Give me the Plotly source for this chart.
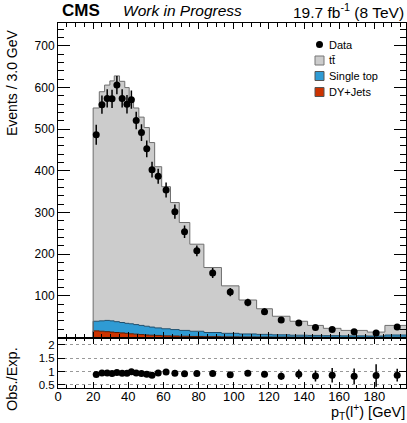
import plotly.graph_objects as go

# ---------------- data ----------------
bin_edges = [20, 23.5, 26.5, 29.5, 32, 35, 38, 40.5, 43, 46, 49, 52, 55, 59, 64,
             69, 75, 83, 93, 103, 113, 122, 132, 142, 151, 161, 176, 186, 200]
mc_total = [551, 590, 606, 616, 628, 615, 600, 575, 551, 529, 504, 468, 410, 362,
            324, 276, 224, 168, 124, 90, 69, 51, 39, 29, 22, 17, 13, 29]
single_top = [23, 25, 27, 27, 26, 25, 24, 24, 23, 22, 21, 19.5, 18, 17, 15.5, 14,
              12.5, 10, 8.5, 7.3, 6.5, 5.7, 4.8, 4.5, 4.1, 3.7, 3.2, 5.5]
dy_jets = [16, 15, 14, 13, 12, 11, 10, 9, 8, 7, 6, 5.5, 5, 4, 3.5, 3, 2.5, 2, 1.5,
           1.2, 1, 0.8, 0.7, 0.5, 0.4, 0.3, 0.3, 0.5]
data_values = [487, 559, 574, 573, 606, 574, 560, 571, 521, 492, 453, 403, 387, 354,
               302, 254, 208, 155, 109, 84, 62, 42, 35, 24, 19, 14, 11, 25]
data_errors = [24, 22, 22, 22, 22, 22, 22, 22, 21, 20, 20, 19, 18, 18, 17, 15, 13,
               12, 10, 9, 8, 7, 7, 6, 6, 5, 5.5, 7]

legend_labels = ["Data", "tt\u0304", "Single top", "DY+Jets"]
x_tick_vals = [0, 20, 40, 60, 80, 100, 120, 140, 160, 180]
y_tick_vals = [100, 200, 300, 400, 500, 600, 700]
r_tick_vals = [0.5, 1, 1.5, 2]
r_tick_text = ["0.5", "1", "1.5", "2"]

# ---------------- derived ----------------
n = len(mc_total)
centers = [(bin_edges[i] + bin_edges[i + 1]) / 2 for i in range(n)]
ttbar = [mc_total[i] - single_top[i] - dy_jets[i] for i in range(n)]
cum_dy = list(dy_jets)
cum_st = [dy_jets[i] + single_top[i] for i in range(n)]
cum_all = [cum_st[i] + ttbar[i] for i in range(n)]
ratio = [data_values[i] / mc_total[i] for i in range(n)]
ratio_err = [data_errors[i] / mc_total[i] for i in range(n)]


def step(vals):
    xs = [bin_edges[0]] + list(bin_edges)
    ys = [0] + list(vals) + [vals[-1]]
    return xs, ys


C_TT = "#cccccc"
C_ST = "#2f9bd4"
C_DY = "#cc3300"
FONT = "Liberation Sans, Arial, Helvetica, sans-serif"

fig = go.Figure()
for vals, fillc, linec, fillmode in [
    (cum_dy, C_DY, "#5a1a00", "tozeroy"),
    (cum_st, C_ST, "#1d4f6e", "tonexty"),
    (cum_all, C_TT, "#6e6e6e", "tonexty"),
]:
    xs, ys = step(vals)
    fig.add_trace(go.Scatter(x=xs, y=ys, mode="lines", line=dict(shape="hv", color=linec, width=1),
                             fill=fillmode, fillcolor=fillc, xaxis="x", yaxis="y",
                             hoverinfo="skip"))

fig.add_trace(go.Scatter(x=centers, y=data_values, mode="markers",
                         marker=dict(color="black", size=7),
                         error_y=dict(type="data", array=data_errors, color="black",
                                      thickness=1.5, width=0),
                         xaxis="x", yaxis="y"))

fig.add_trace(go.Scatter(x=centers, y=ratio, mode="markers",
                         marker=dict(color="black", size=7),
                         error_y=dict(type="data", array=ratio_err, color="black",
                                      thickness=1.5, width=0),
                         xaxis="x2", yaxis="y2"))

# geometry helpers (pixel -> paper)
L, R, T, B, W, H = 58, 1, 23, 35, 407, 423
PW, PH = W - L - R, H - T - B


def px(xp):
    return (xp - L) / PW


def py(yp):
    return (H - B - yp) / PH


split = py(337.5)

axis_common = dict(showline=True, linecolor="black", linewidth=1, mirror="ticks",
                   ticks="inside", tickcolor="black", showgrid=False, zeroline=False,
                   tickfont=dict(family=FONT, size=13, color="black"))

fig.update_layout(
    width=W, height=H, margin=dict(l=L, r=R, t=T, b=B),
    paper_bgcolor="white", plot_bgcolor="white", showlegend=False,
    font=dict(family=FONT, color="black"),
    xaxis=dict(axis_common, domain=[0, 1], range=[0, 198], anchor="y",
               showticklabels=False, tickvals=x_tick_vals, ticklen=6,
               minor=dict(ticks="inside", ticklen=3.5, dtick=5, tick0=0, tickcolor="black")),
    yaxis=dict(axis_common, domain=[split, 1], range=[0, 755], anchor="x",
               tickvals=y_tick_vals, ticklen=12,
               tickfont=dict(family=FONT, size=12, color="black"),
               minor=dict(ticks="inside", ticklen=6, dtick=20, tick0=0, tickcolor="black")),
    xaxis2=dict(axis_common, domain=[0, 1], range=[0, 198], anchor="y2",
                tickvals=x_tick_vals, ticklen=6, ticklabelstandoff=-4,
                minor=dict(ticks="inside", ticklen=3, dtick=5, tick0=0, tickcolor="black")),
    yaxis2=dict(axis_common, domain=[0, split], range=[0.38, 2.28], anchor="x2",
                tickvals=r_tick_vals, ticktext=r_tick_text, ticklen=7,
                tickfont=dict(family=FONT, size=11.5, color="black"),
                showgrid=True, gridcolor="#999999", griddash="dot", gridwidth=1),
)

ann = []
ann.append(dict(text="<b>CMS</b>", x=px(60), y=py(11), xanchor="left", yanchor="middle",
                font=dict(family=FONT, size=17)))
ann.append(dict(text="<i>Work in Progress</i>", x=px(121), y=py(11), xanchor="left",
                yanchor="middle", font=dict(family=FONT, size=15.5)))
ann.append(dict(text="19.7 fb<sup>-1</sup> (8 TeV)", x=px(406), y=py(11), xanchor="right",
                yanchor="middle", font=dict(family=FONT, size=15.5)))
ann.append(dict(text="Events / 3.0 GeV", x=px(12), y=py(28), xanchor="center", yanchor="top",
                textangle=-90, font=dict(family=FONT, size=14)))
ann.append(dict(text="Obs./Exp.", x=px(12), y=py(379), xanchor="center", yanchor="middle",
                textangle=-90, font=dict(family=FONT, size=14.5)))
ann.append(dict(text="p<sub>T</sub>(l<sup>+</sup>) [GeV]", x=px(407), y=py(412),
                xanchor="right", yanchor="middle", font=dict(family=FONT, size=14.5)))

# legend (drawn manually)
shapes = []
rows = [44.5, 60.5, 76, 92]
shapes.append(dict(type="circle", xref="paper", yref="paper",
                   x0=px(316), x1=px(323), y0=py(rows[0] + 3.5), y1=py(rows[0] - 3.5),
                   fillcolor="black", line=dict(color="black", width=0)))
for r, fc, lc in zip(rows[1:], [C_TT, C_ST, C_DY], ["#777777", "#555555", "#555555"]):
    shapes.append(dict(type="rect", xref="paper", yref="paper",
                       x0=px(315), x1=px(324), y0=py(r + 4.5), y1=py(r - 4.5),
                       fillcolor=fc, line=dict(color=lc, width=1)))
for r, lab in zip(rows, legend_labels):
    ann.append(dict(text=lab, x=px(327), y=py(r), xanchor="left", yanchor="middle",
                    font=dict(family=FONT, size=11)))

for a in ann:
    a.update(xref="paper", yref="paper", showarrow=False)
fig.update_layout(annotations=ann, shapes=shapes)

fig.write_html("out.html")
